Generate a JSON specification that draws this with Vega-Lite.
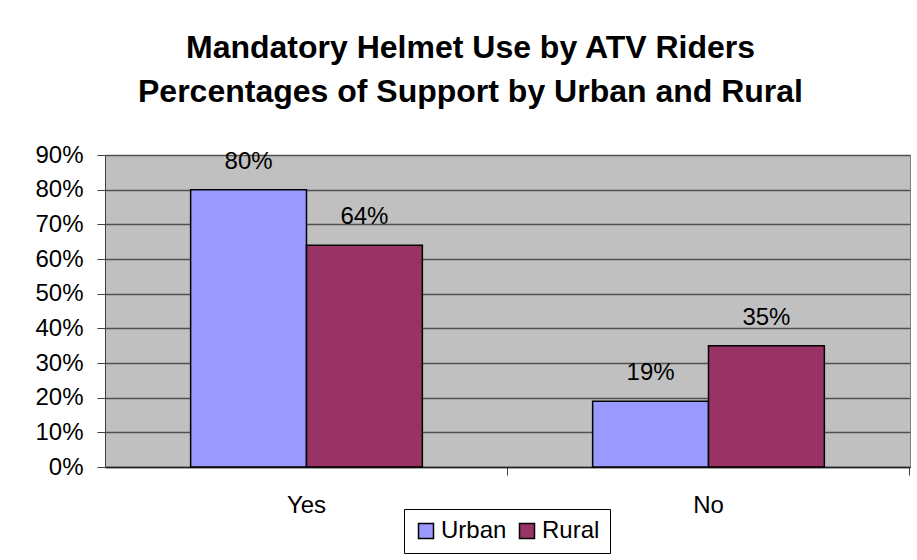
{
  "$schema": "https://vega.github.io/schema/vega-lite/v6.json",
  "width": 805,
  "height": 312,
  "autosize": {"type": "none"},
  "padding": {"left": 105, "top": 155, "right": 7, "bottom": 93},
  "background": "white",
  "config": {
    "font": "Liberation Sans",
    "view": {"fill": "#C0C0C0", "stroke": "#808080", "strokeWidth": 1}
  },
  "title": {
    "text": ["Mandatory Helmet Use by ATV Riders", "Percentages of Support by Urban and Rural"],
    "fontSize": 32,
    "fontWeight": "bold",
    "font": "Liberation Sans",
    "color": "black",
    "lineHeight": 44,
    "anchor": "middle",
    "frame": "group",
    "dx": -37,
    "offset": 34
  },
  "data": {
    "values": [
      {"answer": "Yes", "area": "Urban", "pct": 0.80},
      {"answer": "Yes", "area": "Rural", "pct": 0.64},
      {"answer": "No", "area": "Urban", "pct": 0.19},
      {"answer": "No", "area": "Rural", "pct": 0.35}
    ]
  },
  "encoding": {
    "x": {
      "field": "answer", "type": "nominal", "sort": ["Yes", "No"],
      "scale": {"paddingInner": 0.4236, "paddingOuter": 0.213},
      "axis": {
        "title": null, "labelAngle": 0, "labelFontSize": 24, "labelColor": "black",
        "labelFont": "Liberation Sans",
        "ticks": true, "tickSize": 8, "tickColor": "#404040", "bandPosition": 1.368,
        "domainColor": "#202020", "domainWidth": 1.5, "labelPadding": 18, "grid": false
      }
    },
    "xOffset": {"field": "area", "type": "nominal", "sort": ["Urban", "Rural"]},
    "y": {
      "field": "pct", "type": "quantitative",
      "scale": {"domain": [0, 0.9], "nice": false},
      "axis": {
        "title": null, "format": ".0%", "values": [0, 0.1, 0.2, 0.3, 0.4, 0.5, 0.6, 0.7, 0.8, 0.9],
        "labelFontSize": 24, "labelColor": "black", "labelFont": "Liberation Sans",
        "tickSize": 8, "tickColor": "#404040", "labelPadding": 14,
        "domainColor": "#404040", "domainWidth": 1,
        "grid": true, "gridColor": "#505050", "gridWidth": 1.5
      }
    }
  },
  "layer": [
    {
      "mark": {"type": "bar", "stroke": "black", "strokeWidth": 1.5},
      "encoding": {
        "color": {
          "field": "area", "type": "nominal", "sort": ["Urban", "Rural"],
          "scale": {"domain": ["Urban", "Rural"], "range": ["#9999FF", "#993366"]},
          "legend": {
            "title": null, "orient": "none", "direction": "horizontal",
            "legendX": 299, "legendY": 354,
            "symbolType": "square", "symbolSize": 225, "symbolStrokeColor": "black",
            "symbolStrokeWidth": 1.5, "symbolOpacity": 1,
            "labelFontSize": 24, "labelColor": "black", "labelFont": "Liberation Sans",
            "labelOffset": 3, "columnPadding": 8,
            "padding": 10, "strokeColor": "black", "fillColor": "white"
          }
        }
      }
    },
    {
      "mark": {"type": "text", "baseline": "alphabetic", "dy": -21, "fontSize": 24, "color": "black", "font": "Liberation Sans"},
      "encoding": {
        "text": {"field": "pct", "type": "quantitative", "format": ".0%"}
      }
    }
  ]
}
